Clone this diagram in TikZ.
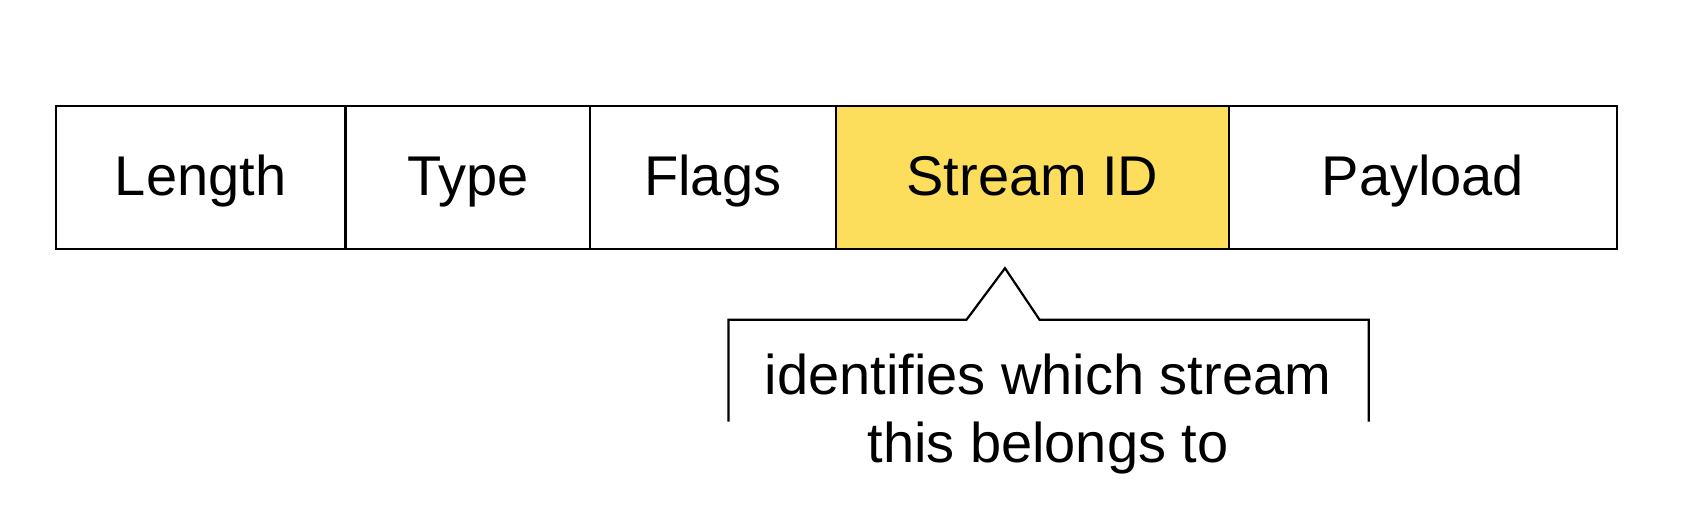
\documentclass[tikz,border=0pt]{standalone}
\usepackage{fontspec}
\setmainfont{Liberation Sans}
\definecolor{sidyellow}{RGB}{252,221,92}
\begin{document}
\begin{tikzpicture}[x=1pt,y=-1pt,
  field/.style={draw=black, line width=2.2pt, minimum height=142.7pt, inner sep=0pt, outer sep=0pt, text height=42pt, text depth=5pt, font=\fontsize{56}{60}\selectfont, anchor=west},
  bracket/.style={draw=black, line width=2.2pt},
  note/.style={align=center, inner sep=0pt, font=\fontsize{56}{67.7}\selectfont}]
\useasboundingbox (0,0) rectangle (1682,518);
\fill[white] (0,0) rectangle (1682,518);
\node[field, minimum width=289.6pt] (len) at (55.8,177.5) {Length};
\node[field, minimum width=244.6pt] (typ) at (len.east) {Type};
\node[field, minimum width=245.6pt] (flg) at (typ.east) {Flags};
\node[field, minimum width=393.7pt, fill=sidyellow] (sid) at (flg.east) {Stream ID};
\node[field, minimum width=387.3pt] (pay) at (sid.east) {Payload};
\node[note] (txt) at (1048,414) {identifies which stream\\this belongs to};
\coordinate (tip) at (1005,268.2);
\coordinate (bl) at (728.4,421.6);
\coordinate (br) at (1368.8,421.6);
\draw[bracket, line join=miter] (bl) -- (728.4,319.7) -- (966.5,319.7) -- (tip) -- (1039.5,319.7) -- (1368.8,319.7) -- (br);
\end{tikzpicture}
\end{document}
